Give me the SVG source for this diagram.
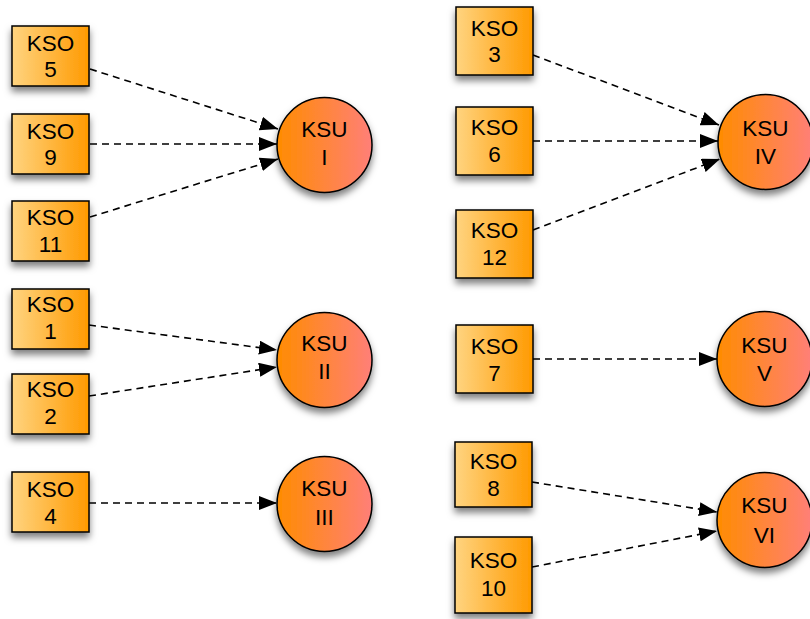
<svg xmlns="http://www.w3.org/2000/svg" width="810" height="619" viewBox="0 0 810 619">
<defs>
<linearGradient id="gBox" x1="0" y1="0" x2="1" y2="0">
<stop offset="0" stop-color="#ffd480"/>
<stop offset="1" stop-color="#ff9a00"/>
</linearGradient>
<linearGradient id="gCir" x1="0" y1="0" x2="1" y2="0">
<stop offset="0" stop-color="#ff8c00"/>
<stop offset="1" stop-color="#ff7f78"/>
</linearGradient>
<filter id="sh" x="-30%" y="-30%" width="160%" height="170%">
<feDropShadow dx="0" dy="5" stdDeviation="3.5" flood-color="#000" flood-opacity="0.5"/>
</filter>
<marker id="ah" markerUnits="userSpaceOnUse" markerWidth="20" markerHeight="16" refX="18" refY="7" orient="auto">
<path d="M0,0 L18,7 L0,14 z" fill="#000"/>
</marker>
</defs>
<style>
.box{fill:url(#gBox);stroke:#000;stroke-width:1.5;filter:url(#sh)}
.cir{fill:url(#gCir);stroke:#000;stroke-width:1.5;filter:url(#sh)}
.t{font-family:"Liberation Sans",Arial,sans-serif;font-size:22.5px;fill:#000;text-anchor:middle}
.e{fill:none;stroke:#000;stroke-width:1.6;stroke-dasharray:7 5;marker-end:url(#ah)}
</style>
<g id="connectors">
<line class="e" x1="90" y1="69" x2="278" y2="129"/>
<line class="e" x1="90" y1="144" x2="277" y2="144"/>
<line class="e" x1="90" y1="217" x2="278" y2="159"/>
<line class="e" x1="89" y1="325" x2="277" y2="350"/>
<line class="e" x1="89" y1="396" x2="277" y2="367"/>
<line class="e" x1="89" y1="503" x2="277" y2="503"/>
<line class="e" x1="533" y1="55" x2="719" y2="125"/>
<line class="e" x1="533" y1="141" x2="718" y2="141"/>
<line class="e" x1="533" y1="230" x2="720" y2="159"/>
<line class="e" x1="533" y1="359" x2="717" y2="359"/>
<line class="e" x1="532" y1="482" x2="717" y2="512"/>
<line class="e" x1="532" y1="567" x2="717" y2="531"/>
</g>
<g id="kso5"><rect class="box" x="12" y="26" width="77" height="60"/><text class="t" x="50.5" y="51">KSO</text><text class="t" x="50.5" y="77">5</text></g>
<g id="kso9"><rect class="box" x="12" y="114" width="77" height="60"/><text class="t" x="50.5" y="139">KSO</text><text class="t" x="50.5" y="165">9</text></g>
<g id="kso11"><rect class="box" x="12" y="201" width="77" height="60"/><text class="t" x="50.5" y="225">KSO</text><text class="t" x="50.5" y="252">11</text></g>
<g id="kso1"><rect class="box" x="12" y="289" width="77" height="60"/><text class="t" x="50.5" y="312">KSO</text><text class="t" x="50.5" y="339">1</text></g>
<g id="kso2"><rect class="box" x="12" y="374" width="77" height="60"/><text class="t" x="50.5" y="397">KSO</text><text class="t" x="50.5" y="424">2</text></g>
<g id="kso4"><rect class="box" x="12" y="472" width="77" height="60"/><text class="t" x="50.5" y="497">KSO</text><text class="t" x="50.5" y="524">4</text></g>
<g id="kso3"><rect class="box" x="456" y="7" width="77" height="68"/><text class="t" x="494.5" y="36">KSO</text><text class="t" x="494.5" y="62">3</text></g>
<g id="kso6"><rect class="box" x="456" y="107" width="77" height="68"/><text class="t" x="494.5" y="135">KSO</text><text class="t" x="494.5" y="162">6</text></g>
<g id="kso12"><rect class="box" x="456" y="210" width="77" height="68"/><text class="t" x="494.5" y="238">KSO</text><text class="t" x="494.5" y="265">12</text></g>
<g id="kso7"><rect class="box" x="456" y="325" width="77" height="68"/><text class="t" x="494.5" y="354">KSO</text><text class="t" x="494.5" y="381">7</text></g>
<g id="kso8"><rect class="box" x="455" y="442" width="77" height="65"/><text class="t" x="493.5" y="469">KSO</text><text class="t" x="493.5" y="496">8</text></g>
<g id="kso10"><rect class="box" x="455" y="537" width="77" height="76"/><text class="t" x="493.5" y="568">KSO</text><text class="t" x="493.5" y="596">10</text></g>
<g id="ksu1"><circle class="cir" cx="324.5" cy="145" r="47.5"/><text class="t" x="324.5" y="137">KSU</text><text class="t" x="324.5" y="165">I</text></g>
<g id="ksu2"><circle class="cir" cx="324.5" cy="360" r="47.5"/><text class="t" x="324.5" y="351">KSU</text><text class="t" x="324.5" y="379">II</text></g>
<g id="ksu3"><circle class="cir" cx="324.5" cy="504" r="47.5"/><text class="t" x="324.5" y="496">KSU</text><text class="t" x="324.5" y="525">III</text></g>
<g id="ksu4"><circle class="cir" cx="765.5" cy="142" r="47.5"/><text class="t" x="765.5" y="136">KSU</text><text class="t" x="765.5" y="164">IV</text></g>
<g id="ksu5"><circle class="cir" cx="764.5" cy="359" r="47.5"/><text class="t" x="764.5" y="353">KSU</text><text class="t" x="764.5" y="381">V</text></g>
<g id="ksu6"><circle class="cir" cx="764.5" cy="520" r="47.5"/><text class="t" x="764.5" y="513">KSU</text><text class="t" x="764.5" y="543">VI</text></g>
</svg>
